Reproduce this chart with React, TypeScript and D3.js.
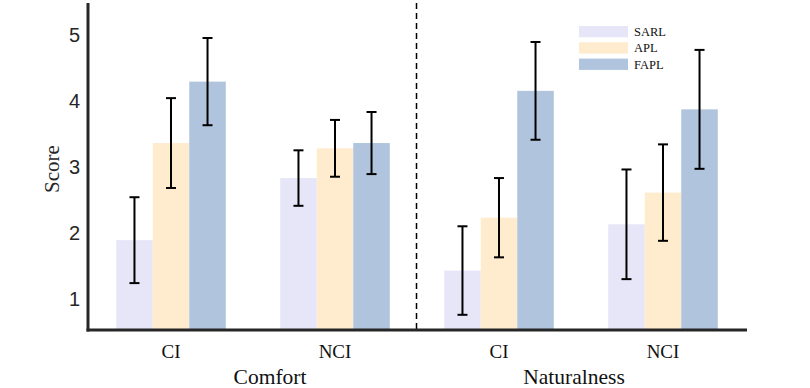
import React, { useEffect, useRef } from 'react';
import * as d3 from 'd3';

const groups = ['CI', 'NCI', 'CI', 'NCI'];
const metrics = ['Comfort', 'Naturalness'];
const seriesNames = ['SARL', 'APL', 'FAPL'];
const seriesColors = ['#e6e6f8', '#ffebcd', '#b0c4de'];
// mean per group, per series
const sarlMean = [1.86, 2.8, 1.4, 2.1];
const aplMean = [3.33, 3.25, 2.2, 2.58];
const faplMean = [4.26, 3.33, 4.12, 3.84];
const sarlErr = [0.65, 0.42, 0.67, 0.83];
const aplErr = [0.68, 0.43, 0.6, 0.73];
const faplErr = [0.66, 0.47, 0.74, 0.9];
const yTicks = [1, 2, 3, 4, 5];

const SERIF = "'Liberation Serif', 'Times New Roman', Times, serif";
const SANS = "'Liberation Sans', Arial, Helvetica, sans-serif";

export default function App() {
  const svgRef = useRef<SVGSVGElement>(null);

  useEffect(() => {
    const svg = d3.select(svgRef.current);
    svg.selectAll('*').remove();

    const means = [sarlMean, aplMean, faplMean];
    const errs = [sarlErr, aplErr, faplErr];

    const x = d3.scaleBand<number>().domain(d3.range(groups.length)).range([89, 745]);
    const xInner = d3.scaleBand<number>()
      .domain(d3.range(seriesNames.length))
      .range([0, x.bandwidth()])
      .paddingInner(0)
      .paddingOuter(0.745);
    const y = d3.scaleLinear().domain([0.5, 5.45]).range([330, 3]);

    // bars
    seriesNames.forEach((name, s) => {
      svg.append('g')
        .selectAll('rect')
        .data(means[s])
        .join('rect')
        .attr('x', (_, i) => x(i)! + xInner(s)!)
        .attr('y', d => y(d))
        .attr('width', xInner.bandwidth())
        .attr('height', d => y(0.5) - y(d))
        .attr('fill', seriesColors[s]);
    });

    // error bars
    seriesNames.forEach((name, s) => {
      const g = svg.append('g').attr('stroke', '#000').attr('stroke-width', 2);
      means[s].forEach((m, i) => {
        const cx = x(i)! + xInner(s)! + xInner.bandwidth() / 2;
        const lo = y(m - errs[s][i]);
        const hi = y(m + errs[s][i]);
        g.append('line').attr('x1', cx).attr('x2', cx).attr('y1', lo).attr('y2', hi);
        g.append('line').attr('x1', cx - 5).attr('x2', cx + 5).attr('y1', lo).attr('y2', lo);
        g.append('line').attr('x1', cx - 5).attr('x2', cx + 5).attr('y1', hi).attr('y2', hi);
      });
    });

    // dashed separator
    const sepX = (x(1)! + x.bandwidth() + x(2)!) / 2 - 0.5;
    svg.append('line')
      .attr('x1', sepX).attr('x2', sepX)
      .attr('y1', y(5.45)).attr('y2', y(0.5))
      .attr('stroke', '#000')
      .attr('stroke-width', 1.5)
      .attr('stroke-dasharray', '6,4');

    // axes lines
    svg.append('line')
      .attr('x1', 88).attr('x2', 88)
      .attr('y1', y(5.45)).attr('y2', y(0.5) + 1.5)
      .attr('stroke', '#262626').attr('stroke-width', 3);
    svg.append('line')
      .attr('x1', 86.5).attr('x2', 747)
      .attr('y1', y(0.5)).attr('y2', y(0.5))
      .attr('stroke', '#262626').attr('stroke-width', 3);

    // y tick labels
    svg.append('g')
      .selectAll('text')
      .data(yTicks)
      .join('text')
      .attr('x', 80)
      .attr('y', d => y(d))
      .attr('dy', '0.45em')
      .attr('text-anchor', 'end')
      .style('font-family', SANS)
      .style('font-size', '20px')
      .attr('fill', '#262626')
      .text(d => d);

    svg.append('text')
      .attr('transform', `translate(58.5,169) rotate(-90)`)
      .attr('text-anchor', 'middle')
      .style('font-family', SERIF)
      .style('font-size', '21px')
      .attr('fill', '#262626')
      .text('Score');

    // x labels
    svg.append('g')
      .selectAll('text')
      .data(groups)
      .join('text')
      .attr('x', (_, i) => x(i)! + x.bandwidth() / 2)
      .attr('y', 358)
      .attr('text-anchor', 'middle')
      .style('font-family', SERIF)
      .style('font-size', '19px')
      .attr('fill', '#111')
      .text(d => d);

    // metric labels sit a little off the midpoint of their two groups
    const metricNudge = [17, -7];
    svg.append('g')
      .selectAll('text')
      .data(metrics)
      .join('text')
      .attr('x', (_, i) => x(i * 2)! + x.bandwidth() + metricNudge[i])
      .attr('y', 384)
      .attr('text-anchor', 'middle')
      .style('font-family', SERIF)
      .style('font-size', '21.5px')
      .attr('fill', '#111')
      .text(d => d);

    // legend
    const legend = svg.append('g').attr('transform', 'translate(579,26)');
    seriesNames.forEach((name, s) => {
      legend.append('rect')
        .attr('x', 0).attr('y', s * 16.3)
        .attr('width', 49).attr('height', 11.3)
        .attr('fill', seriesColors[s]);
      legend.append('text')
        .attr('x', 55).attr('y', s * 16.3 + 5.6)
        .attr('dy', '0.35em')
        .style('font-family', SERIF)
        .style('font-size', '12.5px')
        .attr('fill', '#111')
        .text(name);
    });
  }, []);

  return (
    <svg
      ref={svgRef}
      width={810}
      height={388}
      style={{ position: 'absolute', left: 0, top: 0, background: '#fff' }}
    />
  );
}
